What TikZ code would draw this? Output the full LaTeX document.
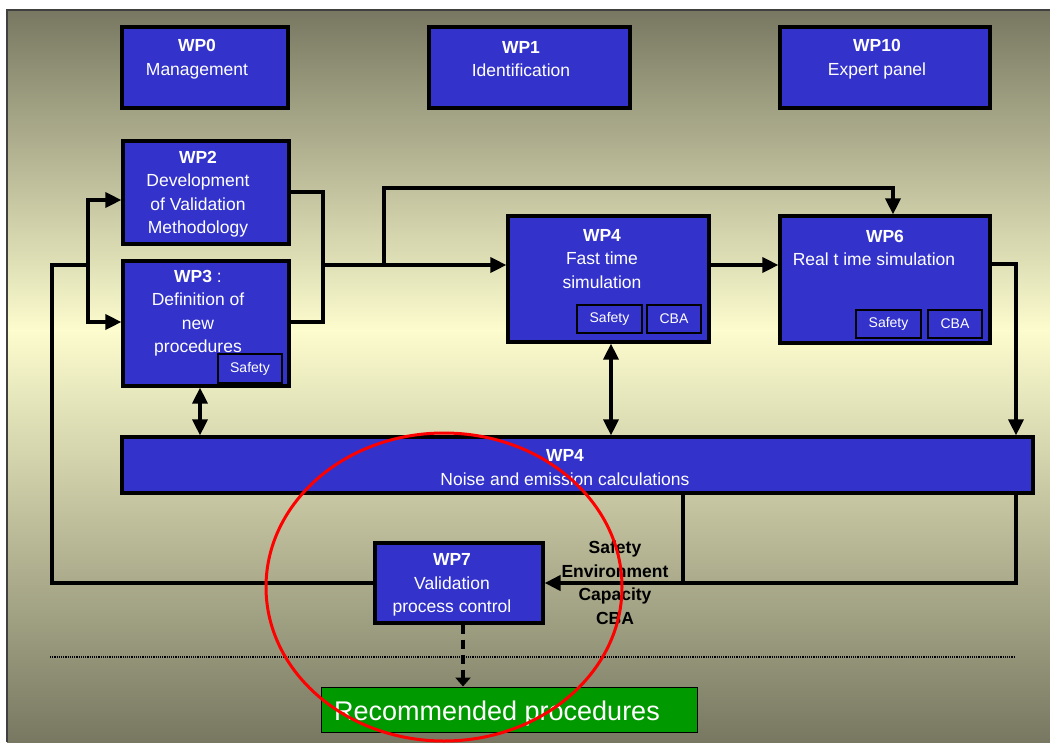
\documentclass[tikz,border=0pt]{standalone}
\usepackage{fontspec}
\setmainfont{Liberation Sans}
\usetikzlibrary{arrows.meta,calc}
\definecolor{wpblue}{RGB}{51,51,204}
\definecolor{bgdark}{RGB}{120,120,98}
\definecolor{bglight}{RGB}{252,252,206}
\definecolor{recgreen}{RGB}{0,153,0}
\begin{document}
\begin{tikzpicture}[x=1pt,y=-1pt,line join=miter,
 box/.style={draw=black,line width=3.2pt,fill=wpblue,inner sep=0pt},
 sub/.style={draw=black,line width=1.6pt,fill=wpblue,inner sep=0pt,text=white,font=\fontsize{14}{16}\selectfont},
 wptext/.style={text=white,align=center,inner sep=0pt,font=\fontsize{17.5}{23.5}\selectfont},
 conn/.style={line width=3.4pt},
 arr/.style={conn,-{Triangle[length=16pt,width=15pt]}},
 darr/.style={conn,{Triangle[length=16pt,width=15pt]}-{Triangle[length=16pt,width=15pt]}}]
\useasboundingbox (0,0) rectangle (1050,742);
% background
\fill[white] (0,0) rectangle (1050,742);
\shade[top color=bgdark,bottom color=bglight] (7,10) rectangle (1050,331);
\shade[top color=bglight,bottom color=bgdark] (7,330) rectangle (1050,742);
\draw[line width=1.5pt,black!75] (7,742) -- (7,10) -- (1050,10);
% boxes
\node[box,minimum width=166pt,minimum height=81pt] (wp0) at (205,67.5) {};
\node[box,minimum width=201pt,minimum height=81pt] (wp1) at (529.5,67.5) {};
\node[box,minimum width=210pt,minimum height=81pt] (wp10) at (885,67.5) {};
\node[box,minimum width=166pt,minimum height=103pt] (wp2) at (206,192.5) {};
\node[box,minimum width=166pt,minimum height=125pt] (wp3) at (206,323.5) {};
\node[box,minimum width=201pt,minimum height=126pt] (wp4f) at (608.5,279) {};
\node[box,minimum width=210pt,minimum height=127pt] (wp6) at (885,279.5) {};
\node[box,minimum width=911pt,minimum height=56pt] (noise) at (577.5,465) {};
\node[box,minimum width=168pt,minimum height=80pt] (wp7) at (459,583) {};
\node[draw=black,line width=1pt,fill=recgreen,minimum width=376pt,minimum height=45pt,inner sep=0pt] (rec) at (509,709.5) {};
% sub boxes
\node[sub,minimum width=64pt,minimum height=29pt] (s3) at (250,368.5) {Safety};
\node[sub,minimum width=65pt,minimum height=28pt] (s4) at (609.5,319) {Safety};
\node[sub,minimum width=54pt,minimum height=28pt] (c4) at (674,319) {CBA};
\node[sub,minimum width=65pt,minimum height=28pt] (s6) at (888.5,324) {Safety};
\node[sub,minimum width=54pt,minimum height=28pt] (c6) at (955,324) {CBA};
% texts
\node[wptext] (t0) at (197,59) {\textbf{WP0}\\Management};
\node[wptext] (t1) at (521,59) {\textbf{WP1}\\Identification};
\node[wptext] (t10) at (877,59) {\textbf{WP10}\\Expert panel};
\node[wptext] (t2) at (198,194) {\textbf{WP2}\\Development\\of Validation\\Methodology};
\node[wptext] (t3) at (198,313) {\textbf{WP3} :\\Definition of\\new\\procedures};
\node[wptext] (t4) at (602,259) {\textbf{WP4}\\Fast time\\simulation};
\node[wptext] (t6a) at (885,236) {\textbf{WP6}};
\node[wptext] (t6b) at (874,259.5) {Real t ime simulation};
\node[wptext] (tn) at (565,467.5) {\textbf{WP4}\\Noise and emission calculations};
\node[wptext] (t7) at (452,585) {\textbf{WP7}\\Validation\\process control};
\node[text=white,inner sep=0pt,font=\fontsize{27}{30}\selectfont] (trec) at (497,714) {Recommended procedures};
\node[align=center,inner sep=0pt,font=\bfseries\fontsize{17.5}{23.5}\selectfont] (crit) at (615,582.5) {Safety\\Environment\\Capacity\\CBA};
% connectors
\coordinate (b2) at (323,192);
\coordinate (b3) at (323,322);
\draw[conn] (b2 -| wp2.east) -- (b2) -- (b3) -- (b3 -| wp3.east);
\coordinate (j1) at (323,265);
\draw[arr] (j1) -- (j1 -| wp4f.west);
\coordinate (j2) at (384,265);
\coordinate (t6) at (893,188);
\draw[arr] (j2) |- (t6) -- (t6 |- wp6.north);
\coordinate (m45) at (700,265);
\draw[arr] (m45 -| wp4f.east) -- (m45 -| wp6.west);
\coordinate (r6) at (1016,264);
\draw[arr] (r6 -| wp6.east) -- (r6) -- (r6 |- noise.north);
\coordinate (rb) at (1016,583);
\coordinate (mb) at (683,583);
\draw[conn] (mb |- noise.south) -- (mb);
\draw[arr,line width=4pt] (rb |- noise.south) -- (rb) -- (rb -| wp7.east);
\coordinate (lc) at (52,265);
\coordinate (fork) at (88,265);
\draw[conn] (wp7.west) -| (lc) -- (fork);
\coordinate (f2) at (88,200);
\coordinate (f3) at (88,322);
\draw[arr] (fork) -- (f2) -- (f2 -| wp2.west);
\draw[arr] (fork) -- (f3) -- (f3 -| wp3.west);
\coordinate (d3) at (200,400);
\draw[darr] (d3 |- wp3.south) -- (d3 |- noise.north);
\coordinate (d4) at (611,400);
\draw[darr] (d4 |- wp4f.south) -- (d4 |- noise.north);
\coordinate (dsh) at (463,650);
\draw[conn,dash pattern=on 9pt off 6pt,-{Triangle[length=9pt,width=15pt]}] (dsh |- wp7.south) -- (dsh |- rec.north);
\coordinate (dl) at (50,657);
\coordinate (dr) at (1015,657);
\draw[line width=1.3pt,dash pattern=on 1.2pt off 1pt] (dl) -- (dr);
% red ellipse
\draw[red,line width=3pt] (444,587) ellipse [x radius=178pt,y radius=154pt];
\end{tikzpicture}
\end{document}
